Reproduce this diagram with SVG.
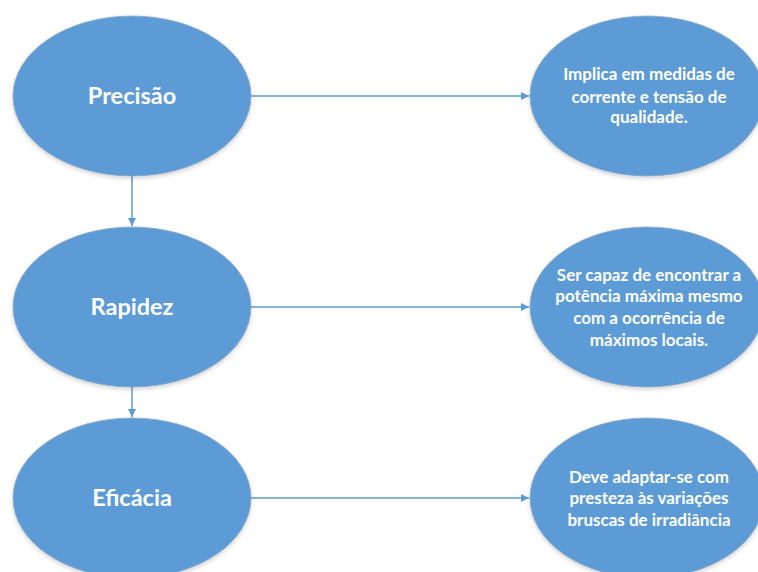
<svg xmlns="http://www.w3.org/2000/svg" width="758" height="572" viewBox="0 0 758 572">
<defs>
<style>
.node{fill:#5B9BD5;stroke:#8FA9C4;stroke-width:0.8;filter:url(#sh)}
.big{font-family:Lato,"Open Sans","Liberation Sans",sans-serif;font-weight:bold;font-size:23.5px;fill:#fff;text-anchor:middle}
.small{font-family:Lato,"Open Sans","Liberation Sans",sans-serif;font-weight:bold;font-size:17px;fill:#fff;text-anchor:middle}
.conn{stroke:#5B9BD5;stroke-width:1.5;fill:none;marker-end:url(#ah)}
</style>
<filter id="sh" x="-10%" y="-10%" width="120%" height="125%">
<feDropShadow dx="0" dy="2" stdDeviation="2" flood-color="#000" flood-opacity="0.18"/>
</filter>
<marker id="ah" markerWidth="10" markerHeight="10" refX="8" refY="4" orient="auto" markerUnits="userSpaceOnUse">
<path d="M0,0 L8,4 L0,8 Z" fill="#5B9BD5"/>
</marker>
</defs>
<rect width="758" height="572" fill="#fff"/>
<g id="connectors">
<line class="conn" x1="251" y1="96" x2="529" y2="96"/>
<line class="conn" x1="251" y1="307" x2="529" y2="307"/>
<line class="conn" x1="251" y1="498" x2="529" y2="498"/>
<line class="conn" x1="132" y1="176" x2="132" y2="226"/>
<line class="conn" x1="132" y1="387" x2="132" y2="417"/>
</g>
<g id="precisao">
<ellipse class="node" cx="132" cy="96" rx="119" ry="80"/>
<text class="big" x="132" y="104">Precisão</text>
</g>
<g id="rapidez">
<ellipse class="node" cx="132" cy="307" rx="119" ry="80"/>
<text class="big" x="132" y="315">Rapidez</text>
</g>
<g id="eficacia">
<ellipse class="node" cx="132" cy="498" rx="119" ry="80"/>
<text class="big" x="132" y="506">Eficácia</text>
</g>
<g id="desc1">
<ellipse class="node" cx="647" cy="96" rx="117" ry="80"/>
<text class="small" x="649" y="80">Implica em medidas de</text>
<text class="small" x="649" y="102.5">corrente e tensão de</text>
<text class="small" x="649" y="123">qualidade.</text>
</g>
<g id="desc2">
<ellipse class="node" cx="647" cy="307" rx="117" ry="80"/>
<text class="small" x="649" y="280.5">Ser capaz de encontrar a</text>
<text class="small" x="649" y="302">potência máxima mesmo</text>
<text class="small" x="649" y="324">com a ocorrência de</text>
<text class="small" x="649" y="345.5">máximos locais.</text>
</g>
<g id="desc3">
<ellipse class="node" cx="647" cy="498" rx="117" ry="80"/>
<text class="small" x="649" y="482.5">Deve adaptar-se com</text>
<text class="small" x="649" y="504">presteza às variações</text>
<text class="small" x="649" y="526">bruscas de irradiância</text>
</g>
</svg>
